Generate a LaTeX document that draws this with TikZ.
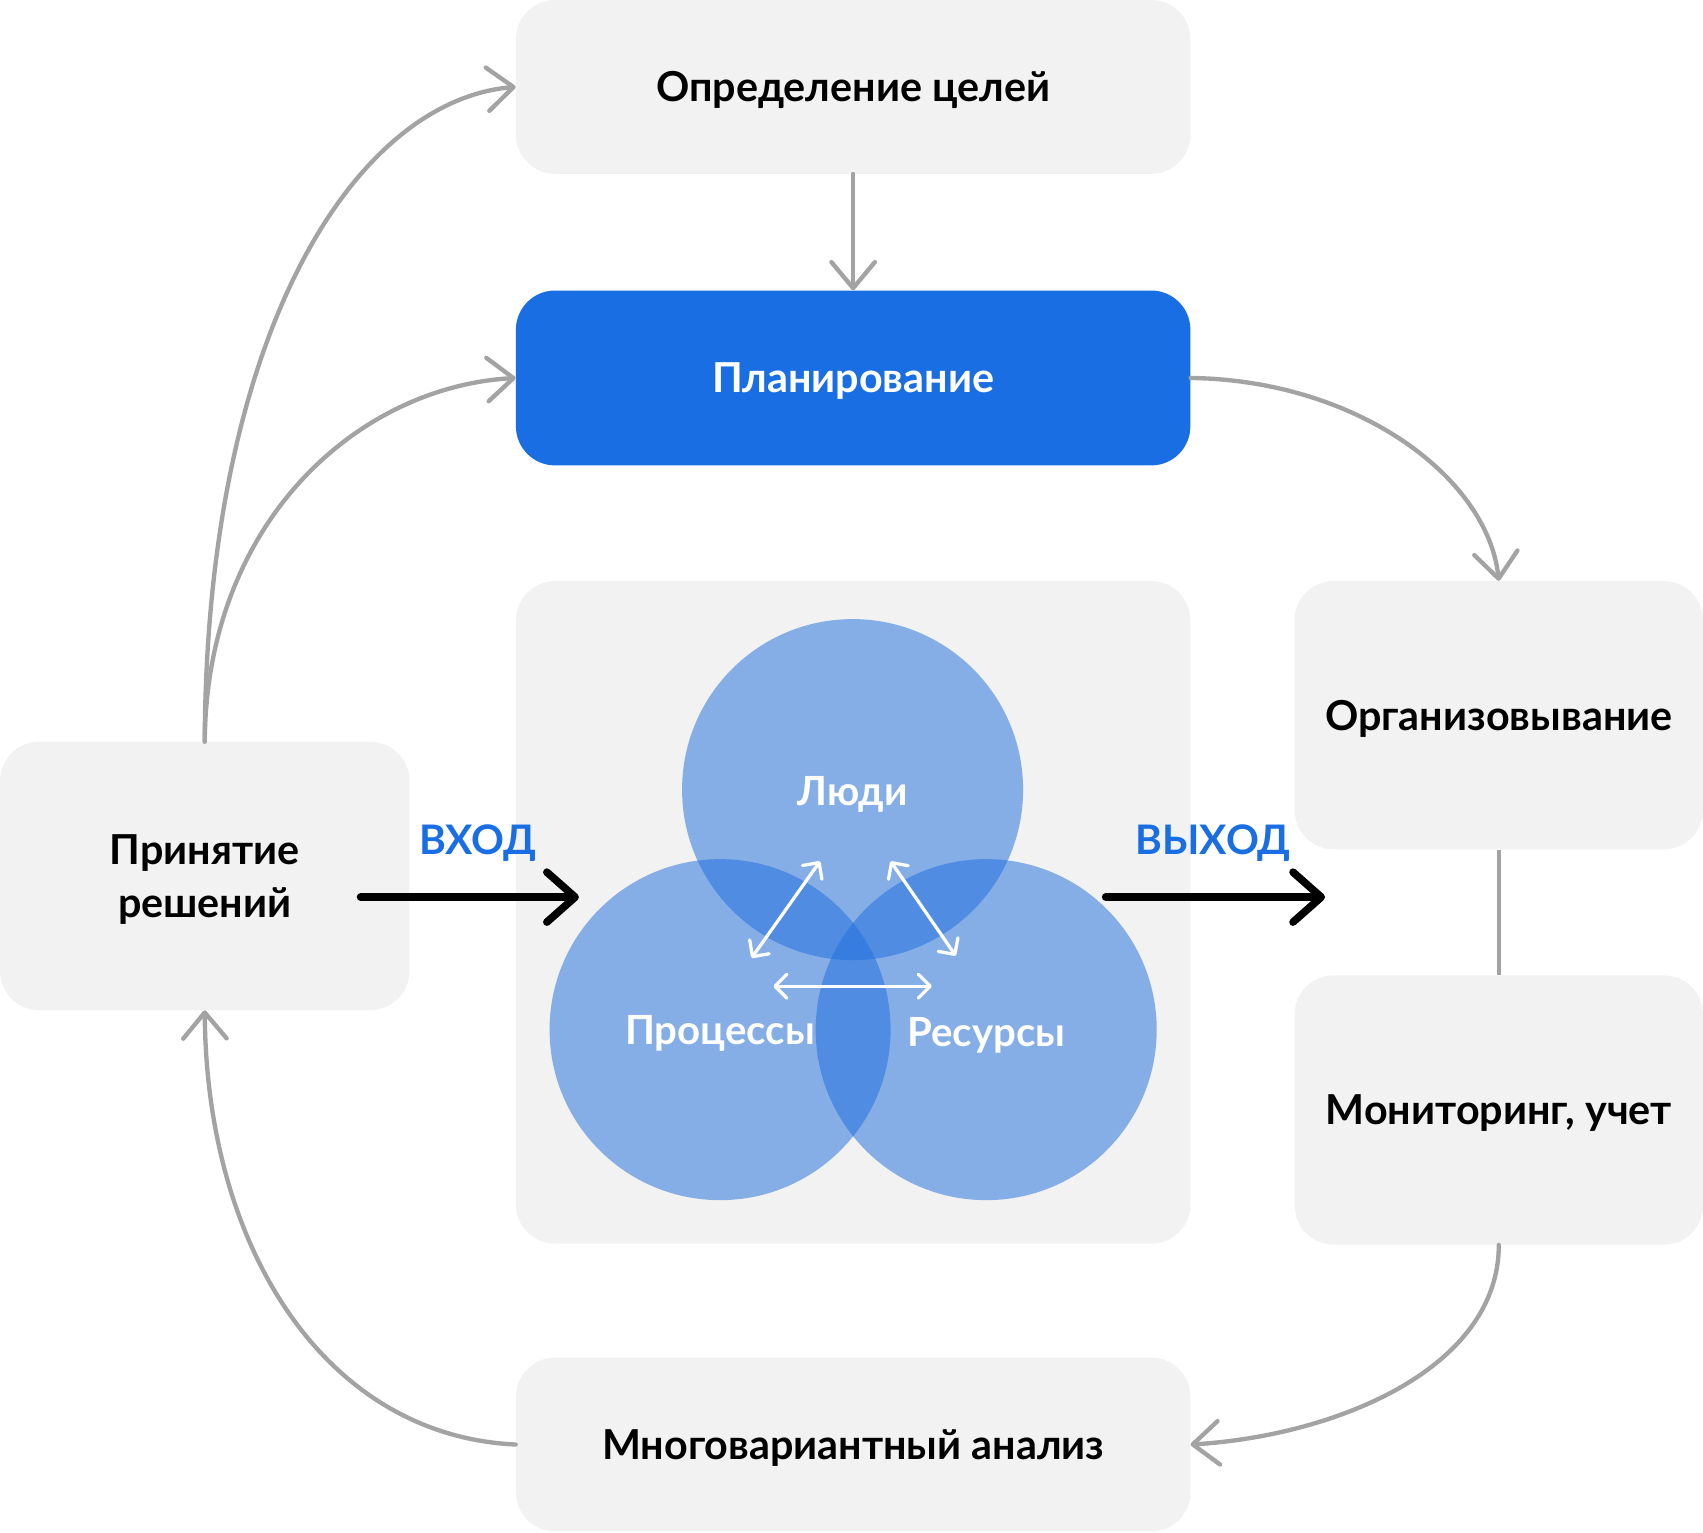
\documentclass[tikz,border=0pt]{standalone}
\usepackage{fontspec}
\setmainfont{Lato}
\usetikzlibrary{arrows.meta}
\definecolor{boxgray}{RGB}{242,242,242}
\definecolor{mainblue}{RGB}{24,110,226}
\definecolor{circblue}{RGB}{30,110,222}
\definecolor{linegray}{RGB}{163,163,163}
\tikzset{
  gbox/.style={fill=boxgray, rounded corners=36pt, draw=none, align=center, inner sep=0pt,
    font=\fontsize{38}{49}\selectfont\bfseries, text=black, text depth=0pt},
  bbox/.style={gbox, fill=mainblue, text=white},
  circ/.style={circle, fill=circblue, fill opacity=0.51, draw=none, minimum size=314pt, inner sep=0pt},
  clabel/.style={font=\fontsize{37}{42}\selectfont\bfseries, text=white, inner sep=0pt, text depth=0pt},
  iolabel/.style={font=\fontsize{37.5}{42}\selectfont\bfseries, text=mainblue, inner sep=0pt, text depth=0pt},
  gconn/.style={draw=linegray, line width=4pt, line cap=round,
    -{Straight Barb[length=24pt,width=40pt,round]}},
  gline/.style={draw=linegray, line width=4pt},
  bconn/.style={draw=black, line width=7pt, line cap=round,
    -{Straight Barb[length=26pt,width=46pt,round]}},
  wconn/.style={draw=white, line width=3pt, line cap=round,
    {Straight Barb[length=11pt,width=22pt,round]}-{Straight Barb[length=11pt,width=22pt,round]}},
}
\begin{document}
\begin{tikzpicture}[x=1pt,y=-1pt]
\useasboundingbox (0,0) rectangle (1568,1410.6);

% boxes
\node[gbox, minimum width=621pt, minimum height=160pt] (goal) at (785.5,80) {Определение целей};
\node[bbox, minimum width=621pt, minimum height=161pt] (plan) at (785.5,348) {Планирование};
\node[gbox, minimum width=621pt, minimum height=610pt] (core) at (785.5,840) {};
\node[gbox, minimum width=376pt, minimum height=247pt] (org) at (1380,658.5) {Организовывание};
\node[gbox, minimum width=376pt, minimum height=248pt] (mon) at (1380,1022) {Мониторинг, учет};
\node[gbox, minimum width=377pt, minimum height=247pt] (dec) at (188.5,806.5) {Принятие\\решений};
\node[gbox, minimum width=621pt, minimum height=160pt] (multi) at (785.5,1330) {Многовариантный анализ};

% circles
\node[circ] (people) at (785,727) {};
\node[circ] (proc) at (663,948) {};
\node[circ] (res) at (908,948) {};
\node[clabel] (lpeople) at (785,728) {Люди};
\node[clabel] (lproc) at (663,948) {Процессы};
\node[clabel] (lres) at (908,950) {Ресурсы};

% white double arrows
\coordinate (w1a) at (692,882);
\coordinate (w1b) at (755,793);
\coordinate (w2a) at (820,793);
\coordinate (w2b) at (880,880);
\coordinate (w3a) at (712,908);
\coordinate (w3b) at (858,908);
\draw[wconn] (w1a) -- (w1b);
\draw[wconn] (w2a) -- (w2b);
\draw[wconn] (w3a) -- (w3b);

% input / output
\coordinate (inA) at (332,826);
\coordinate (inB) at (533,826);
\coordinate (outA) at (1018,826);
\coordinate (outB) at (1220,826);
\draw[bconn] (inA) -- (inB);
\draw[bconn] (outA) -- (outB);
\node[iolabel] (lin) at (440,773) {ВХОД};
\node[iolabel] (lout) at (1117,773) {ВЫХОД};

% gray connectors
\draw[gconn] (goal.south) -- (plan.north);
\draw[gconn] (plan.east) .. controls (1250,350) and (1370,440) .. (org.north);
\draw[gline] (org.south) -- (mon.north);
\draw[gconn] (mon.south) .. controls (1380,1260) and (1230,1322) .. (multi.east);
\draw[gconn] (multi.west) .. controls (300,1322) and (190,1150) .. (dec.south);
\draw[gconn] (dec.north) .. controls (190,300) and (330,92) .. (goal.west);
\draw[gconn] (dec.north) .. controls (190,480) and (330,356) .. (plan.west);
\end{tikzpicture}
\end{document}
